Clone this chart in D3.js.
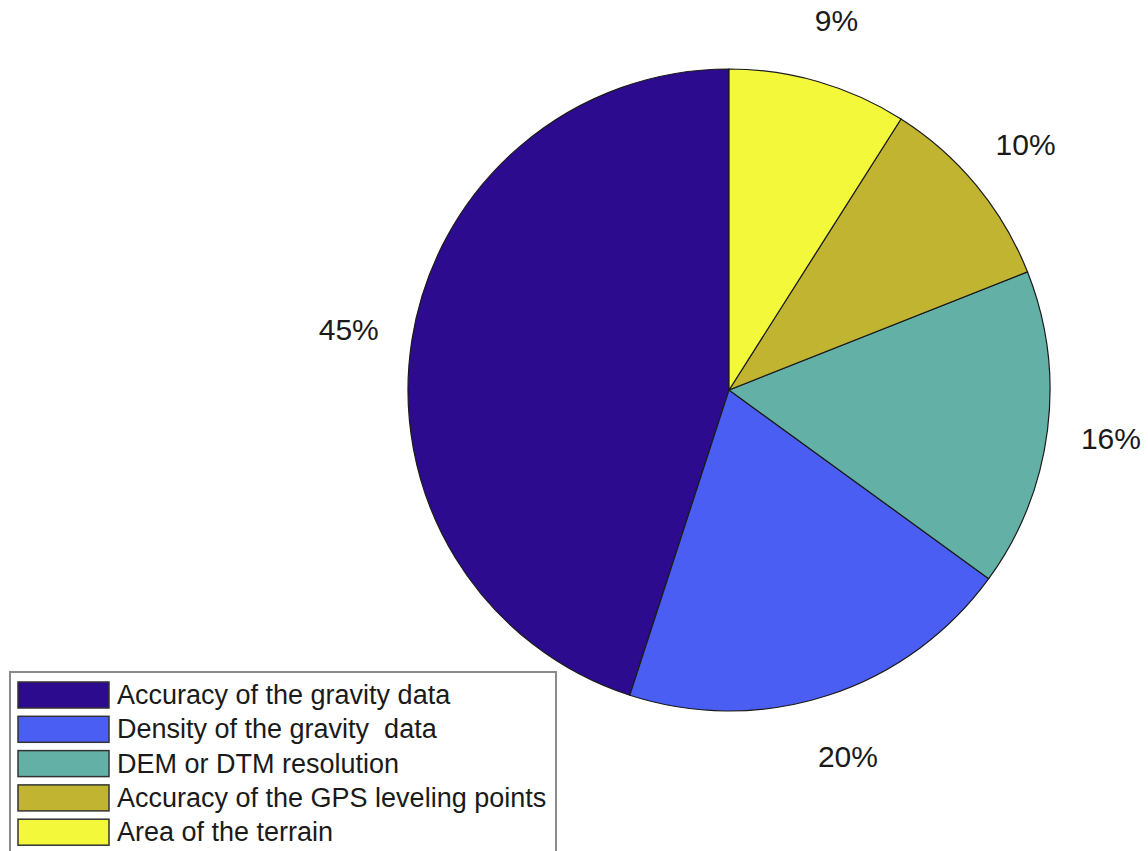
<!DOCTYPE html>
<html>
<head>
<meta charset="utf-8">
<script src="https://cdn.jsdelivr.net/npm/d3@7"></script>
<style>
  body { margin: 0; background: #fff; }
  text { font-family: "Liberation Sans", Arial, sans-serif; fill: #1a1a1a; white-space: pre; }
</style>
</head>
<body>
<svg width="1148" height="851"></svg>
<script>
// error sources and their share (%)
var categories = ["Accuracy of the gravity data", "Density of the gravity  data", "DEM or DTM resolution",
                  "Accuracy of the GPS leveling points", "Area of the terrain"];
var values = [45, 20, 16, 10, 9];
var labels = ["45%", "20%", "16%", "10%", "9%"];
var colors = ["#2d0b8e", "#4b5ef4", "#63b1a6", "#c0b431", "#f3f93a"];

var svg = d3.select("svg"),
    cx = 729, cy = 390,
    radius = 321,
    labelRadius = 385;

// matlab style: start at 12 o'clock, go counterclockwise
var pie = d3.pie().sort(null).startAngle(0).endAngle(-2 * Math.PI);
var arcs = pie(values);

var arc = d3.arc().innerRadius(0).outerRadius(radius);
var labelArc = d3.arc().innerRadius(labelRadius).outerRadius(labelRadius);

var g = svg.append("g").attr("transform", "translate(" + cx + "," + cy + ")");

g.selectAll("path")
    .data(arcs)
    .enter().append("path")
    .attr("d", arc)
    .attr("fill", function(d, i) { return colors[i]; })
    .attr("stroke", "#1a1a1a")
    .attr("stroke-width", 1.2);

g.selectAll("text.pct")
    .data(arcs)
    .enter().append("text")
    .attr("class", "pct")
    .attr("x", function(d) { return labelArc.centroid(d)[0]; })
    .attr("y", function(d) { return labelArc.centroid(d)[1]; })
    .attr("text-anchor", "middle")
    .attr("dominant-baseline", "central")
    .style("font-size", "30px")
    .text(function(d, i) { return labels[i]; });

// legend
var legend = svg.append("g").attr("transform", "translate(10,672)");
legend.append("rect")
    .attr("x", 0).attr("y", 0)
    .attr("width", 546).attr("height", 185)
    .attr("fill", "#fff")
    .attr("stroke", "#8a8a8a")
    .attr("stroke-width", 2);

var row = d3.scaleBand().domain(d3.range(categories.length)).range([7, 7 + 34.3 * categories.length]);

var items = legend.selectAll("g.item")
    .data(categories)
    .enter().append("g")
    .attr("class", "item")
    .attr("transform", function(d, i) { return "translate(0," + row(i) + ")"; });

items.append("rect")
    .attr("x", 8).attr("y", 3)
    .attr("width", 91).attr("height", 26)
    .attr("fill", function(d, i) { return colors[i]; })
    .attr("stroke", "#333")
    .attr("stroke-width", 1.5);

items.append("text")
    .attr("x", 107)
    .attr("y", 16)
    .attr("dominant-baseline", "central")
    .style("font-size", "27px")
    .text(function(d) { return d; });
</script>
</body>
</html>
